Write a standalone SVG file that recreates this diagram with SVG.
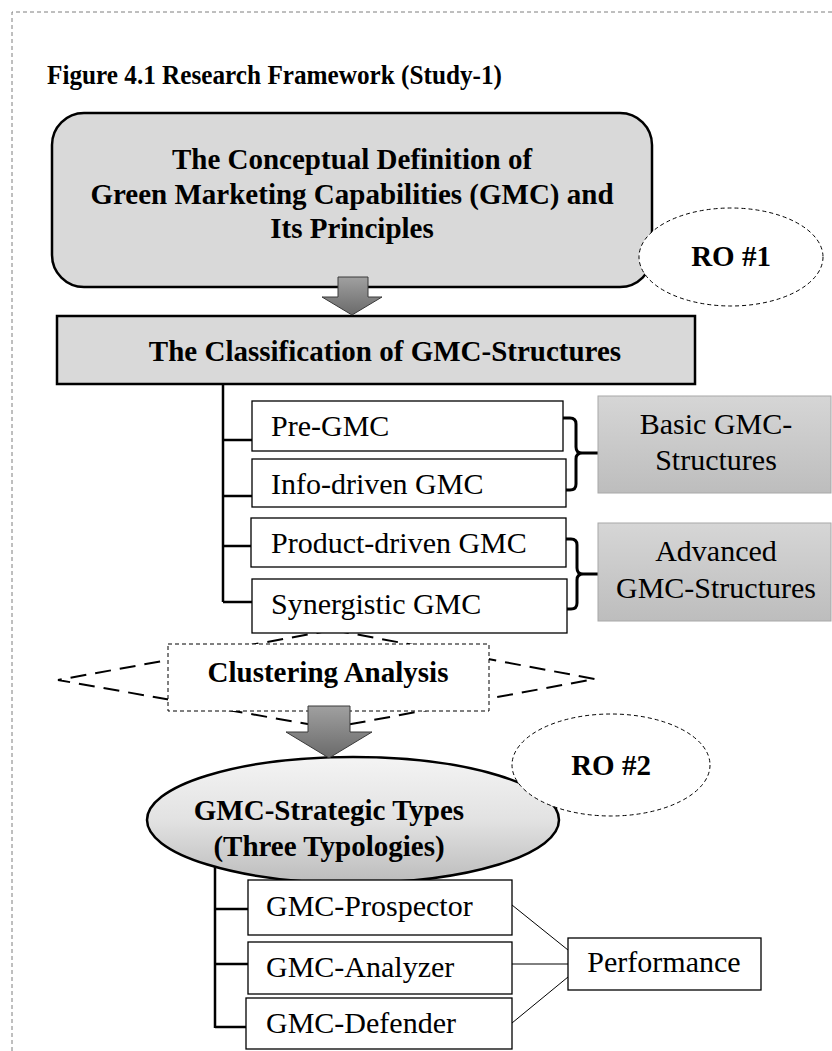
<svg xmlns="http://www.w3.org/2000/svg" width="832" height="1051" viewBox="0 0 832 1051">
  <style>
    text { font-family: "Liberation Serif", "Times New Roman", serif; fill: #000; }
    .b { font-weight: bold; font-size: 29px; }
    .r { font-size: 30px; }
    .mid { text-anchor: middle; }
    .frame { fill: none; stroke: #7f7f7f; stroke-width: 1; stroke-dasharray: 4 3; }
    .gray { fill: #d9d9d9; stroke: #000; stroke-width: 2.5; }
    .item { fill: #fff; stroke: #000; stroke-width: 1.3; }
    .group { fill: url(#groupFill); stroke: #a8a8a8; stroke-width: 1; }
    .ro { fill: #fff; stroke: #000; stroke-width: 1; stroke-dasharray: 4 3; }
    .tree { fill: none; stroke: #000; stroke-width: 2.5; }
    .brace { fill: none; stroke: #000; stroke-width: 3; stroke-linejoin: round; }
    .thin { fill: none; stroke: #000; stroke-width: 1; }
    .block { fill: url(#arrowFill); stroke: #3a3a3a; stroke-width: 1; }
  </style>
  <defs>
    <linearGradient id="groupFill" x1="0" y1="0" x2="0" y2="1">
      <stop offset="0" stop-color="#d6d6d6"/>
      <stop offset="1" stop-color="#bdbdbd"/>
    </linearGradient>
    <linearGradient id="arrowFill" x1="0" y1="0" x2="0" y2="1">
      <stop offset="0" stop-color="#a0a0a0"/>
      <stop offset="1" stop-color="#6a6a6a"/>
    </linearGradient>
    <linearGradient id="typesFill" x1="0" y1="0" x2="0" y2="1">
      <stop offset="0" stop-color="#f4f4f4"/>
      <stop offset="0.5" stop-color="#e2e2e2"/>
      <stop offset="1" stop-color="#bcbcbc"/>
    </linearGradient>
  </defs>

  <!-- page frame -->
  <path class="frame" d="M12,1051 V12 H832"/>

  <text id="title" class="b" x="47" y="84" style="font-size:28px" textLength="455" lengthAdjust="spacingAndGlyphs">Figure 4.1 Research Framework (Study-1)</text>

  <!-- concept definition -->
  <g id="concept">
    <rect class="gray" x="52" y="113" width="600" height="174" rx="32" ry="32"/>
    <text class="b mid" x="352" y="169">The Conceptual Definition of</text>
    <text class="b mid" x="352" y="204">Green Marketing Capabilities (GMC) and</text>
    <text class="b mid" x="352" y="238">Its Principles</text>
  </g>

  <g id="ro1">
    <ellipse class="ro" cx="731" cy="257" rx="92" ry="49"/>
    <text class="b mid" x="731" y="266">RO #1</text>
  </g>

  <!-- classification -->
  <g id="classification">
    <rect class="gray" x="57" y="316" width="638" height="68"/>
    <text class="b mid" x="385" y="361">The Classification of GMC-Structures</text>
  </g>

  <!-- connectors -->
  <g id="connectors">
    <path class="block" d="M338,277 H368 V297 H382 L352,315 L322,297 H338 Z"/>
    <path class="tree" d="M223,384 V602 M223,440 H252 M223,496 H252 M223,546 H251 M223,602 H252"/>
    <path class="brace" d="M558,418 H570 Q576,418 576,424 V447 Q576,453 582,453 Q576,453 576,459 V484 Q576,490 570,490 H559 M582,453 H598"/>
    <path class="brace" d="M563,539 H571 Q577,539 577,545 V568 Q577,574 583,574 Q577,574 577,580 V603 Q577,609 571,609 H566 M583,574 H598"/>
    <polygon points="333,630 595,679 330,728 58,680" fill="none" stroke="#000" stroke-width="2" stroke-dasharray="16 9"/>
    <path class="tree" d="M215,866 V1028 M215,909 H248 M215,964 H248 M215,1027 H246"/>
    <path class="thin" d="M512,905 L568,950 M512,964 H568 M512,1023 L568,977"/>
  </g>

  <g id="pre-gmc">
    <rect class="item" x="252" y="401" width="311" height="50"/>
    <text class="r" x="271" y="436">Pre-GMC</text>
  </g>
  <g id="info-gmc">
    <rect class="item" x="252" y="459" width="314" height="48"/>
    <text class="r" x="271" y="494">Info-driven GMC</text>
  </g>
  <g id="product-gmc">
    <rect class="item" x="251" y="518" width="315" height="49"/>
    <text class="r" x="271" y="553">Product-driven GMC</text>
  </g>
  <g id="synergistic-gmc">
    <rect class="item" x="252" y="579" width="315" height="54"/>
    <text class="r" x="271" y="614">Synergistic GMC</text>
  </g>

  <g id="basic">
    <rect class="group" x="598" y="396" width="233" height="97"/>
    <text class="r mid" x="716" y="434">Basic GMC-</text>
    <text class="r mid" x="716" y="470">Structures</text>
  </g>
  <g id="advanced">
    <rect class="group" x="598" y="523" width="233" height="98"/>
    <text class="r mid" x="716" y="561">Advanced</text>
    <text class="r mid" x="716" y="598">GMC-Structures</text>
  </g>

  <g id="clustering">
    <rect x="168" y="644" width="321" height="67" fill="#fff" stroke="#000" stroke-width="1" stroke-dasharray="4 3"/>
    <text class="b mid" x="328" y="682">Clustering Analysis</text>
  </g>

  <g id="types">
    <ellipse cx="353" cy="820" rx="206" ry="63" fill="url(#typesFill)" stroke="#000" stroke-width="2.5"/>
    <text class="b mid" x="329" y="820">GMC-Strategic Types</text>
    <text class="b mid" x="329" y="856">(Three Typologies)</text>
  </g>

  <g id="ro2">
    <ellipse class="ro" cx="611" cy="765" rx="99" ry="51"/>
    <text class="b mid" x="611" y="775">RO #2</text>
  </g>

  <path id="arrow-types" class="block" d="M308,706 H350 V732 H372 L329,758 L286,732 H308 Z"/>

  <g id="prospector">
    <rect class="item" x="248" y="880" width="264" height="55"/>
    <text class="r" x="266" y="916">GMC-Prospector</text>
  </g>
  <g id="analyzer">
    <rect class="item" x="248" y="942" width="264" height="52"/>
    <text class="r" x="266" y="977">GMC-Analyzer</text>
  </g>
  <g id="defender">
    <rect class="item" x="246" y="998" width="266" height="51"/>
    <text class="r" x="266" y="1033">GMC-Defender</text>
  </g>

  <g id="performance">
    <rect class="item" x="568" y="938" width="193" height="52"/>
    <text class="r mid" x="664" y="972">Performance</text>
  </g>
</svg>
